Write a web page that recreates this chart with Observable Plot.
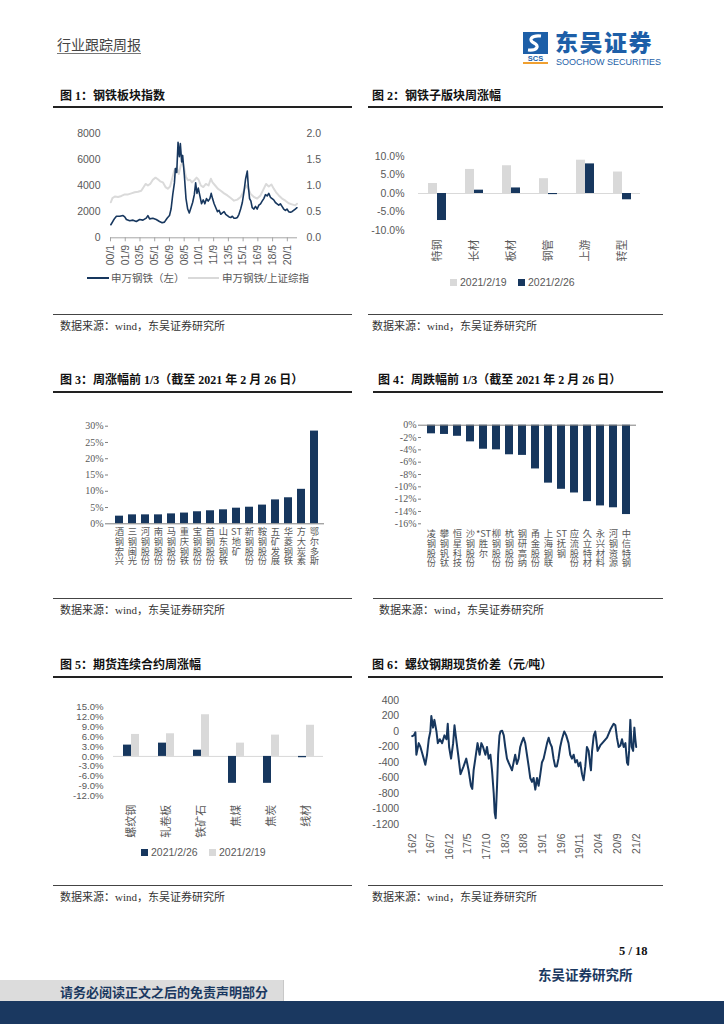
<!DOCTYPE html>
<html><head><meta charset="utf-8">
<script src="https://cdn.jsdelivr.net/npm/d3@7"></script>
<script src="https://cdn.jsdelivr.net/npm/@observablehq/plot@0.6"></script>
<style>
html,body{margin:0;padding:0;background:#fff;}
body{width:724px;height:1024px;position:relative;overflow:hidden;font-family:"Noto Sans CJK SC",sans-serif;}
.a{position:absolute;white-space:nowrap;line-height:1;}
.title{font-family:"Liberation Serif","Noto Sans CJK SC",serif;font-weight:700;font-size:12px;color:#111;}
.cap{font-family:"Liberation Serif","Noto Sans CJK SC",serif;font-size:11px;color:#333;}
.thick{position:absolute;height:2px;background:#222;}
.thin{position:absolute;height:1px;background:#444;}
.leg{font-family:"Liberation Sans","Noto Sans CJK SC",sans-serif;font-size:10.5px;color:#595959;}
.sq{position:absolute;width:7px;height:7px;}
.chart{position:absolute;}
.chart svg{overflow:visible;}
</style></head>
<body>
<div class="a" style="left:57px;top:37px;font-size:14px;color:#444;padding-bottom:2px;border-bottom:1px solid #777;">行业跟踪周报</div>
<svg class="a" style="left:521px;top:31px" width="30" height="34">
  <rect x="2" y="1" width="25" height="22" fill="#1d5fa8"/>
  <path d="M20 5 C10 4, 7 9, 13 12 C19 15, 16 20, 7 19" stroke="#fff" stroke-width="3.2" fill="none"/>
  <text x="14.5" y="30" text-anchor="middle" font-family="Liberation Sans" font-weight="700" font-size="7.5" fill="#1d5fa8">SCS</text>
  <rect x="2" y="31" width="25" height="2" fill="#f0a030"/>
</svg>
<div class="a" style="left:555px;top:30px;font-size:23px;height:24px;font-weight:900;color:#1d5fa8;letter-spacing:1.5px;">东吴证券</div>
<div class="a" style="left:556px;top:58px;font-family:'Liberation Sans';font-size:9px;color:#1d5fa8;">SOOCHOW SECURITIES</div>

<div class="a title" style="left:60px;top:90px;">图 1：钢铁板块指数</div>
<div class="thick" style="left:53px;top:106px;width:299px;"></div>
<div class="a title" style="left:372px;top:90px;">图 2：钢铁子版块周涨幅</div>
<div class="thick" style="left:368px;top:106px;width:295px;"></div>

<div class="thin" style="left:53px;top:314px;width:299px;"></div>
<div class="a cap" style="left:60px;top:321px;">数据来源：wind，东吴证券研究所</div>
<div class="thin" style="left:368px;top:314px;width:295px;"></div>
<div class="a cap" style="left:372px;top:321px;">数据来源：wind，东吴证券研究所</div>

<div class="a title" style="left:60px;top:374px;">图 3：周涨幅前 1/3（截至 2021 年 2 月 26 日）</div>
<div class="thick" style="left:53px;top:391px;width:299px;"></div>
<div class="a title" style="left:378px;top:374px;">图 4：周跌幅前 1/3（截至 2021 年 2 月 26 日）</div>
<div class="thick" style="left:373px;top:391px;width:290px;"></div>

<div class="thin" style="left:53px;top:598px;width:299px;"></div>
<div class="a cap" style="left:60px;top:605px;">数据来源：wind，东吴证券研究所</div>
<div class="thin" style="left:373px;top:598px;width:290px;"></div>
<div class="a cap" style="left:379px;top:605px;">数据来源：wind，东吴证券研究所</div>

<div class="a title" style="left:60px;top:659px;">图 5：期货连续合约周涨幅</div>
<div class="thick" style="left:53px;top:676px;width:299px;"></div>
<div class="a title" style="left:372px;top:659px;">图 6：螺纹钢期现货价差（元/吨）</div>
<div class="thick" style="left:368px;top:676px;width:295px;"></div>

<div class="thin" style="left:53px;top:885px;width:299px;"></div>
<div class="a cap" style="left:60px;top:892px;">数据来源：wind，东吴证券研究所</div>
<div class="thin" style="left:368px;top:885px;width:295px;"></div>
<div class="a cap" style="left:372px;top:892px;">数据来源：wind，东吴证券研究所</div>

<!-- legends -->
<div class="a" style="left:87px;top:277px;width:22px;height:2px;background:#17375e;"></div>
<div class="a leg" style="left:111px;top:273px;">申万钢铁（左）</div>
<div class="a" style="left:188px;top:277px;width:31px;height:2px;background:#d9d9d9;"></div>
<div class="a leg" style="left:222px;top:273px;">申万钢铁/上证综指</div>

<div class="sq" style="left:450px;top:279px;background:#d9d9d9;"></div>
<div class="a leg" style="left:460px;top:277px;">2021/2/19</div>
<div class="sq" style="left:518px;top:279px;background:#17375e;"></div>
<div class="a leg" style="left:528px;top:277px;">2021/2/26</div>

<div class="sq" style="left:141px;top:849px;background:#17375e;"></div>
<div class="a leg" style="left:151px;top:847px;">2021/2/26</div>
<div class="sq" style="left:209px;top:849px;background:#d9d9d9;"></div>
<div class="a leg" style="left:219px;top:847px;">2021/2/19</div>

<!-- footer -->
<div class="a" style="left:619px;top:945px;font-family:'Liberation Serif';font-weight:700;font-size:12.5px;color:#111;">5 / 18</div>
<div class="a" style="left:538px;top:968px;font-size:13.5px;font-weight:700;color:#1a3860;">东吴证券研究所</div>
<div class="a" style="left:0;top:980px;width:283px;height:22px;background:#dcdcdc;border-right:1px solid #c8c8c8;"></div>
<div class="a" style="left:0;top:1001px;width:724px;height:23px;background:#1a3860;"></div>
<div class="a" style="left:60px;top:985px;font-size:13px;font-weight:700;color:#1a3860;">请务必阅读正文之后的免责声明部分</div>

<script>
// ---------- Chart 1 data: 申万钢铁 index & ratio ----------
const c1IndexYears = [2000.04,2000.30,2000.49,2000.67,2001.05,2001.42,2001.61,2001.80,2002.17,2002.55,2002.92,2003.30,2003.67,2004.04,2004.23,2004.42,2004.79,2005.17,2005.54,2005.84,2006.10,2006.40,2006.67,2006.85,2007.04,2007.23,2007.34,2007.49,2007.64,2007.79,2007.90,2008.05,2008.16,2008.35,2008.54,2008.73,2008.91,2009.10,2009.29,2009.48,2009.63,2009.78,2009.93,2010.11,2010.30,2010.49,2010.67,2010.86,2011.05,2011.24,2011.39,2011.54,2011.72,2011.91,2012.10,2012.28,2012.47,2012.66,2012.85,2013.03,2013.22,2013.41,2013.60,2013.78,2013.97,2014.16,2014.34,2014.53,2014.72,2014.91,2015.09,2015.28,2015.47,2015.58,2015.73,2015.88,2016.03,2016.22,2016.40,2016.59,2016.78,2016.97,2017.15,2017.34,2017.53,2017.72,2017.90,2018.09,2018.28,2018.46,2018.65,2018.84,2019.03,2019.21,2019.40,2019.59,2019.78,2019.96,2020.15,2020.34,2020.52,2020.71,2020.90,2021.09];
const c1IndexValues = [1000,1300,1500,1650,1650,1700,1600,1400,1300,1350,1250,1400,1350,1500,1700,1450,1500,1400,1250,1150,1200,1500,1700,2200,3300,4200,5300,5000,7300,6200,7200,5800,6300,4800,3000,2200,1900,2300,2700,3300,4200,3400,3800,3200,2600,2900,2600,3000,2800,3000,3400,3000,2600,2300,2000,2100,1800,1900,2000,1800,1700,1600,1550,1650,1500,1500,1550,1800,2200,2700,3500,4500,5100,4000,3000,2800,2300,2200,2400,2200,2500,2600,2800,3000,3300,3200,3400,3100,3000,2900,2700,2600,2500,2600,2400,2200,2100,2200,2000,1950,2000,2100,2200,2300];
const c1RatioYears = [2000.04,2000.22,2000.49,2000.86,2001.24,2001.61,2001.99,2002.36,2002.73,2003.11,2003.48,2003.75,2003.97,2004.23,2004.49,2004.79,2005.09,2005.36,2005.62,2005.92,2006.22,2006.48,2006.74,2006.97,2007.23,2007.49,2007.72,2007.94,2008.16,2008.35,2008.54,2008.76,2008.99,2009.21,2009.48,2009.74,2009.96,2010.22,2010.49,2010.79,2011.09,2011.35,2011.54,2011.84,2012.13,2012.47,2012.85,2013.22,2013.60,2013.97,2014.34,2014.72,2015.09,2015.36,2015.58,2015.84,2016.22,2016.59,2016.97,2017.34,2017.60,2017.90,2018.20,2018.46,2018.73,2019.03,2019.40,2019.78,2020.15,2020.52,2020.90,2021.09];
const c1RatioValues = [0.68,0.76,0.79,0.78,0.80,0.83,0.83,0.85,0.87,0.88,0.90,0.97,1.03,1.00,1.03,1.11,1.15,1.12,1.08,1.06,0.97,0.94,0.98,1.13,1.29,1.35,1.22,1.38,1.45,1.32,1.16,1.10,1.11,1.06,1.10,1.15,1.11,1.00,0.97,1.03,1.00,1.13,1.06,1.00,0.94,0.90,0.85,0.81,0.76,0.71,0.73,0.78,0.90,1.00,0.94,0.84,0.78,0.75,0.81,0.94,1.03,0.98,1.02,0.94,0.87,0.81,0.75,0.71,0.66,0.64,0.62,0.65];
const c1TickLabels = ["00/1","01/9","03/5","05/1","06/9","08/5","10/1","11/9","13/5","15/1","16/9","18/5","20/1"];
const c1LeftTicks = [0,2000,4000,6000,8000];
const c1RightTicks = [0,0.5,1.0,1.5,2.0];

// ---------- Chart 2 data ----------
const c2Cats = ["特钢","长材","板材","钢管","上游","转型"];
const c2Series = ["2021/2/19","2021/2/26"];
const c2Prev = [2.7,6.5,7.5,4.0,9.0,5.8];
const c2Curr = [-7.3,0.9,1.5,-0.3,8.0,-1.7];
const c2Ticks = [-10,-5,0,5,10];

// ---------- Chart 3 data ----------
const c3Names = ["酒钢宏兴","三钢闽光","河钢股份","南钢股份","马钢股份","重庆钢铁","宝钢股份","首钢股份","山东钢铁","ST地矿","新钢股份","鞍钢股份","五矿发展","华菱钢铁","方大炭素","鄂尔多斯"];
const c3Values = [2.35,2.75,2.75,2.75,3.05,3.3,3.7,4.0,4.3,4.8,5.1,5.75,7.35,8.0,10.6,28.5];
const c3Ticks = [0,5,10,15,20,25,30];

// ---------- Chart 4 data ----------
const c4Names = ["凌钢股份","攀钢钒钛","恒星科技","沙钢股份","*ST胜尔","柳钢股份","杭钢股份","钢研高纳","甬金股份","上海钢联","ST抚钢","应流股份","久立特材","永兴材料","河钢资源","中信特钢"];
const c4Values = [-1.4,-1.5,-1.8,-2.7,-3.9,-4.0,-4.8,-4.9,-7.1,-9.4,-10.4,-11.0,-12.4,-13.1,-13.4,-14.5];
const c4Ticks = [0,-2,-4,-6,-8,-10,-12,-14,-16];

// ---------- Chart 5 data ----------
const c5Cats = ["螺纹钢","轧卷板","铁矿石","焦煤","焦炭","线材"];
const c5Series = ["2021/2/26","2021/2/19"];
const c5Curr = [3.45,4.05,1.9,-8.2,-8.2,-0.4];
const c5Prev = [6.7,6.9,12.7,4.05,6.5,9.5];
const c5Ticks = [-12,-9,-6,-3,0,3,6,9,12,15];

// ---------- Chart 6 data ----------
const c6Dates = ["2016-02-01","2016-02-14","2016-02-27","2016-03-06","2016-03-25","2016-04-08","2016-04-21","2016-05-05","2016-05-18","2016-06-01","2016-06-15","2016-06-28","2016-07-06","2016-07-20","2016-07-31","2016-08-17","2016-08-28","2016-09-13","2016-10-02","2016-10-21","2016-11-07","2016-11-17","2016-11-28","2016-12-14","2016-12-31","2017-01-11","2017-01-25","2017-02-10","2017-03-01","2017-03-26","2017-04-17","2017-05-06","2017-05-25","2017-06-05","2017-06-16","2017-06-30","2017-07-18","2017-08-04","2017-08-18","2017-09-01","2017-09-20","2017-10-03","2017-10-17","2017-10-31","2017-11-13","2017-11-27","2017-12-05","2017-12-13","2017-12-24","2018-01-02","2018-01-13","2018-01-21","2018-02-04","2018-02-17","2018-03-01","2018-03-15","2018-03-28","2018-04-11","2018-04-25","2018-05-08","2018-05-21","2018-06-04","2018-06-18","2018-07-01","2018-07-15","2018-07-28","2018-08-11","2018-08-25","2018-09-08","2018-09-21","2018-10-05","2018-10-18","2018-11-01","2018-11-15","2018-11-28","2018-12-12","2018-12-25","2019-01-08","2019-01-22","2019-02-05","2019-02-18","2019-03-02","2019-03-16","2019-03-30","2019-04-12","2019-04-26","2019-05-09","2019-05-23","2019-06-06","2019-06-25","2019-07-11","2019-07-30","2019-08-13","2019-08-27","2019-09-10","2019-09-23","2019-10-07","2019-10-20","2019-11-03","2019-11-17","2019-11-30","2019-12-14","2019-12-27","2020-01-10","2020-01-24","2020-01-29","2020-02-07","2020-02-21","2020-03-04","2020-03-12","2020-03-23","2020-04-14","2020-05-11","2020-06-08","2020-06-21","2020-07-10","2020-08-01","2020-08-15","2020-08-28","2020-09-11","2020-09-25","2020-10-08","2020-10-22","2020-11-05","2020-11-18","2020-11-27","2020-12-05","2020-12-15","2020-12-26","2021-01-07","2021-01-17","2021-01-25","2021-02-01"];
const c6Values = [-60,-50,-10,-300,-150,-200,-270,-350,-430,-300,-100,0,200,50,150,0,-150,-100,-150,-50,-100,100,-200,-350,-150,80,-100,-300,-550,-450,-350,-500,-700,-740,-500,-350,-150,-300,-150,-200,-300,-200,-350,-300,-500,-800,-1050,-1120,-700,-300,-50,0,10,-50,-200,-350,-400,-450,-500,-400,-300,-420,-350,-200,-130,-80,-150,-300,-450,-600,-650,-600,-750,-600,-700,-550,-400,-350,-250,-150,-80,-150,-200,-350,-450,-450,-350,-200,-100,0,-50,-150,-300,-350,-300,-400,-370,-450,-400,-550,-630,-450,-200,-250,-450,-500,-250,-50,0,-100,-250,-180,-130,-80,-30,40,100,80,-80,-200,-180,-100,-200,-150,-400,-430,-250,150,-200,-250,50,-100,-200];
const c6TickLabels = ["16/2","16/7","16/12","17/5","17/10","18/3","18/8","19/1","19/6","19/11","20/4","20/9","21/2"];
const c6Ticks = [-1200,-1000,-800,-600,-400,-200,0,200,400];

// ---------- helpers ----------
const NAVY = "#17375e", GRAY = "#d9d9d9";
function place(svg, left, top){
  const d = document.createElement("div");
  d.className = "chart"; d.style.left = left+"px"; d.style.top = top+"px";
  d.appendChild(svg); document.body.appendChild(d);
}
// vertical category labels: one CJK character per row, Latin runs kept together
const tokens = s => s.match(/[A-Za-z*]+|./g) || [];
function stackedLabels(names, offset){
  return d3.range(4).map(k => Plot.text(names, {
    x: d => d, text: d => tokens(d)[k] ?? "",
    frameAnchor: "bottom", lineAnchor: "top", dy: offset + k*9.6,
    fontSize: 9.3, fontFamily: "'Noto Sans CJK SC',sans-serif", fill: "#595959"
  }));
}
const sansStyle = {fontFamily:"'Liberation Sans','Noto Sans CJK SC',sans-serif", fontSize:"10px", color:"#595959", background:"transparent", overflow:"visible"};
const serifStyle = {fontFamily:"'Liberation Serif','Noto Sans CJK SC',serif", fontSize:"10px", color:"#595959", background:"transparent", overflow:"visible"};

// ---------- Chart 1 ----------
{
  const parseYM = s => { const [y,m] = s.split("/").map(Number); return 2000 + y + (m-1)/12; };
  const tickPos = c1TickLabels.map(parseYM);
  const labelMap = new Map(tickPos.map((p,i)=>[p,c1TickLabels[i]]));
  const idx = c1IndexYears.map((t,i)=>({t, v:c1IndexValues[i]}));
  const rat = c1RatioYears.map((t,i)=>({t, v:c1RatioValues[i]}));
  const svg = Plot.plot({
    width:300, height:155, marginTop:12.7, marginBottom:37.7, marginLeft:55, marginRight:58,
    style: sansStyle,
    x:{domain:[2000, 2021.15]},
    y:{domain:[0,8000]},
    marks:[
      Plot.axisY({ticks:c1LeftTicks, tickSize:0, tickPadding:10, tickFormat:d=>String(d), fontSize:10.5, label:null}),
      Plot.axisY({anchor:"right", ticks:c1RightTicks.map(r=>r*4000), tickSize:0, tickPadding:9, tickFormat:d=>(d/4000).toFixed(1), fontSize:10.5, label:null}),
      Plot.axisX({ticks:tickPos, tickFormat:d=>labelMap.get(d), tickRotate:-90, tickSize:4, tickPadding:3, stroke:"#a6a6a6", fontSize:10.5, label:null}),
      Plot.ruleY([0],{stroke:"#a6a6a6"}),
      Plot.line(rat,{x:"t", y:d=>d.v*4000, stroke:"#dadada", strokeWidth:2}),
      Plot.line(idx,{x:"t", y:"v", stroke:NAVY, strokeWidth:1.6})
    ]
  });
  place(svg, 55, 120);
}

// ---------- Chart 2 ----------
{
  const data = c2Cats.flatMap((c,i)=>[{cat:c,s:c2Series[0],v:c2Prev[i]},{cat:c,s:c2Series[1],v:c2Curr[i]}]);
  const svg = Plot.plot({
    width:310, height:125, marginTop:16, marginBottom:35, marginLeft:57, marginRight:30,
    style: sansStyle,
    fx:{domain:c2Cats, padding:0, label:null},
    x:{domain:c2Series, paddingInner:0, paddingOuter:0.86, axis:null},
    y:{domain:[-10,10]},
    color:{domain:c2Series, range:[GRAY, NAVY]},
    marks:[
      Plot.axisY({ticks:c2Ticks, tickSize:0, tickPadding:14, tickFormat:d=>d.toFixed(1)+"%", fontSize:10.5, label:null}),
      Plot.axisFx({anchor:"bottom", tickRotate:-90, tickSize:0, tickPadding:9, fontSize:11, label:null}),
      Plot.ruleY([0],{stroke:GRAY}),
      Plot.barY(data,{fx:"cat", x:"s", y:"v", fill:"s"})
    ]
  });
  place(svg, 360, 140);
}

// ---------- Chart 3 ----------
{
  const data = c3Names.map((n,i)=>({n, v:c3Values[i]}));
  const svg = Plot.plot({
    width:290, height:155, marginTop:10.7, marginBottom:46.7, marginLeft:53, marginRight:21,
    style: serifStyle,
    x:{domain:c3Names, padding:0.4, axis:null},
    y:{domain:[0,30]},
    marks:[
      Plot.axisY({ticks:c3Ticks, tickSize:3, tickPadding:2, tickFormat:d=>d+"%", line:true, stroke:"#7f7f7f", fontSize:10, label:null}),
      ...stackedLabels(c3Names, 5),
      Plot.barY(data,{x:"n", y:"v", fill:NAVY}),
      Plot.ruleY([0],{stroke:"#7f7f7f"})
    ]
  });
  place(svg, 55, 415);
}

// ---------- Chart 4 ----------
{
  const data = c4Names.map((n,i)=>({n, v:c4Values[i]}));
  const svg = Plot.plot({
    width:290, height:155, marginTop:9.7, marginBottom:46.7, marginLeft:56, marginRight:19,
    style: serifStyle,
    x:{domain:c4Names, padding:0.42, axis:null},
    y:{domain:[-16,0]},
    marks:[
      Plot.axisY({ticks:c4Ticks, tickSize:3, tickPadding:2, tickFormat:d=>d+"%", line:true, stroke:"#7f7f7f", fontSize:10, label:null}),
      ...stackedLabels(c4Names, 7),
      Plot.barY(data,{x:"n", y:"v", fill:NAVY}),
      Plot.ruleY([0],{stroke:"#7f7f7f"})
    ]
  });
  place(svg, 365, 415);
}

// ---------- Chart 5 ----------
{
  const data = c5Cats.flatMap((c,i)=>[{cat:c,s:c5Series[0],v:c5Curr[i]},{cat:c,s:c5Series[1],v:c5Prev[i]}]);
  const svg = Plot.plot({
    width:290, height:150, marginTop:11.7, marginBottom:49.7, marginLeft:55, marginRight:20,
    style: sansStyle,
    fx:{domain:c5Cats, padding:0, label:null},
    x:{domain:c5Series, paddingInner:0, paddingOuter:0.99, axis:null},
    y:{domain:[-12,15]},
    color:{domain:c5Series, range:[NAVY, GRAY]},
    marks:[
      Plot.axisY({ticks:c5Ticks, tickSize:0, tickPadding:10, tickFormat:d=>d.toFixed(1)+"%", fontSize:9.6, label:null}),
      Plot.axisFx({anchor:"bottom", tickRotate:-90, tickSize:0, tickPadding:9, fontSize:11, label:null}),
      Plot.ruleY([0],{stroke:GRAY}),
      Plot.barY(data,{fx:"cat", x:"s", y:"v", fill:"s"})
    ]
  });
  place(svg, 55, 695);
}

// ---------- Chart 6 ----------
{
  const parse = d3.utcParse("%Y-%m-%d");
  const data = c6Dates.map((d,i)=>({d:parse(d), v:c6Values[i]}));
  const tickDates = c6TickLabels.map(s=>d3.utcParse("%y/%m")(s));
  const fmt = d => String(d.getUTCFullYear()).slice(2) + "/" + (d.getUTCMonth()+1);
  const svg = Plot.plot({
    width:300, height:170, marginTop:10, marginBottom:36, marginLeft:51.7, marginRight:24.3,
    style: sansStyle,
    x:{type:"utc", domain:[tickDates[0], tickDates[tickDates.length-1]]},
    y:{domain:[-1200,400]},
    marks:[
      Plot.axisY({ticks:c6Ticks, tickSize:0, tickPadding:13, tickFormat:d=>String(d), fontSize:10.5, label:null}),
      Plot.axisX({ticks:tickDates, tickFormat:fmt, tickRotate:-90, tickSize:0, tickPadding:9, fontSize:10.5, label:null}),
      Plot.ruleY([0],{stroke:GRAY}),
      Plot.line(data,{x:"d", y:"v", stroke:NAVY, strokeWidth:2})
    ]
  });
  place(svg, 360, 690);
}
</script>
</body></html>
